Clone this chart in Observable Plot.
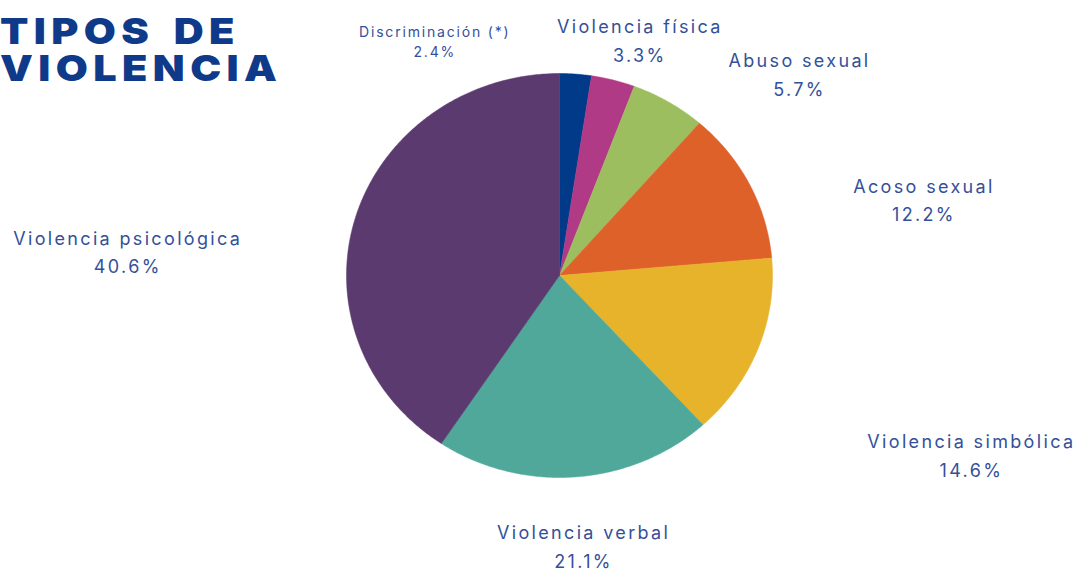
<!DOCTYPE html>
<html>
<head>
<meta charset="utf-8">
<script src="https://cdn.jsdelivr.net/npm/d3@7"></script>
<script src="https://cdn.jsdelivr.net/npm/@observablehq/plot@0.6"></script>
<style>
  html, body { margin: 0; padding: 0; background: #fff; }
  #wrap { position: relative; width: 1078px; height: 573px; }
  .ttl { position: absolute; left: 0; margin: 0; font-family: Inter, "Noto Sans", sans-serif; white-space: nowrap;
         font-weight: 900; font-size: 36px; line-height: 36px; letter-spacing: 4.7px; word-spacing: 5px; color: #0f3a8a;
         transform: scaleX(1.15); transform-origin: 0 0; }
  #chart svg text { letter-spacing: 0.13em; }
</style>
</head>
<body>
<div id="wrap">
  <div id="chart"></div>
  <div class="ttl" style="top:13px">TIPOS DE</div>
  <div class="ttl" style="top:50px">VIOLENCIA</div>
</div>
<script>
// ---- data ----
const categories = ["Discriminación (*)", "Violencia física", "Abuso sexual", "Acoso sexual",
                    "Violencia simbólica", "Violencia verbal", "Violencia psicológica"];
const values = [2.4, 3.3, 5.7, 12.2, 14.6, 21.1, 40.6];
const colors = ["#003a88", "#b03a85", "#9cbe5f", "#de612a", "#e6b32b", "#4fa899", "#5b3a6f"];

// ---- layout (label placement in polar units of the pie radius) ----
const labelAngle = [333, 18, 48.7, 77.9, 114.8, 175.2, 273.1];
const labelRadius = [1.29, 1.22, 1.50, 1.75, 2.13, 1.35, 2.03];
const labelSize = [14, 18, 18, 18, 18, 18, 18];
const labelLead = [1.42, 1.62, 1.56, 1.56, 1.6, 1.6, 1.56];

const total = d3.sum(values);
const wedgePts = [];
let acc = 0;
values.forEach((v, i) => {
  const a0 = acc / total * 360, a1 = (acc + v) / total * 360;
  acc += v;
  const cat = categories[i];
  wedgePts.push({cat, x: 0, y: 0});
  const n = Math.max(2, Math.ceil((a1 - a0) / 0.5));
  for (let k = 0; k <= n; k++) {
    const a = (a0 + (a1 - a0) * k / n) * Math.PI / 180;
    wedgePts.push({cat, x: Math.sin(a), y: Math.cos(a)});
  }
  wedgePts.push({cat, x: 0, y: 0});
});

const labels = categories.map((c, i) => {
  const a = labelAngle[i] * Math.PI / 180;
  return {cat: c, pct: values[i].toFixed(1) + "%", x: labelRadius[i] * Math.sin(a), y: labelRadius[i] * Math.cos(a),
          size: labelSize[i], lead: labelLead[i]};
});

const chart = Plot.plot({
  width: 1078,
  height: 573,
  margin: 0,
  x: {domain: [-1, 1], range: [346, 772], axis: null},
  y: {domain: [-1, 1], range: [477, 73], axis: null},
  color: {domain: categories, range: colors},
  style: {fontFamily: "Inter, 'Noto Sans', sans-serif", background: "#fff"},
  marks: [
    Plot.line(wedgePts, {x: "x", y: "y", z: "cat", fill: "cat", stroke: "cat", strokeWidth: 0.5, curve: "linear"}),
    ...labels.map(d => Plot.text([d], {x: "x", y: "y", text: dd => dd.cat + "\n" + dd.pct, dy: -3,
      fontSize: d.size, lineHeight: d.lead, fill: "#34509a", textAnchor: "middle", lineAnchor: "middle", fontWeight: 400}))
  ]
});
document.getElementById("chart").appendChild(chart);
</script>
</body>
</html>
